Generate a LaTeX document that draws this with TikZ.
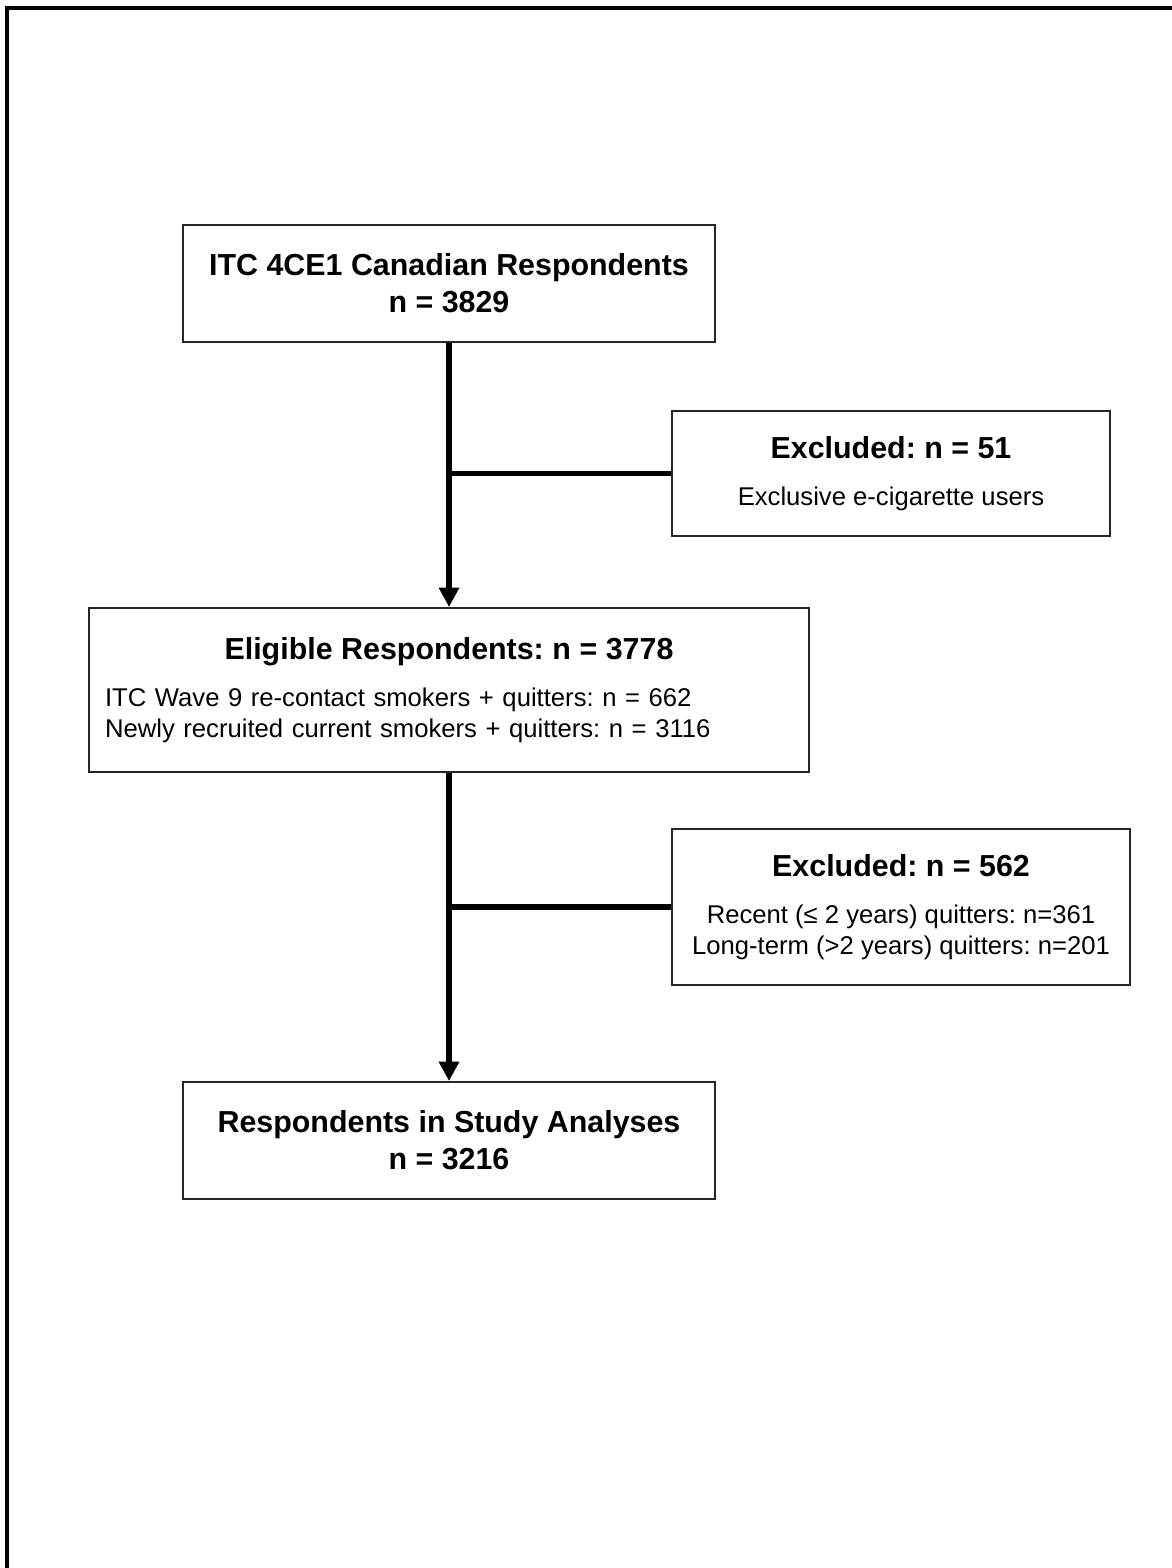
\documentclass[tikz,border=0pt]{standalone}
\usepackage{fontspec}
\setmainfont{Liberation Sans}
\usetikzlibrary{arrows.meta}

\newcommand{\hdfont}{\fontsize{17.3}{21}\selectfont\bfseries}
\newcommand{\txfont}{\fontsize{14.6}{17.6}\selectfont}
\frenchspacing

\begin{document}
\begin{tikzpicture}[x=0.02cm, y=-0.02cm, align=center]
  \tikzstyle{block} = [rectangle, draw=black!85, line width=1.1pt, inner sep=0pt, font=\txfont]
  \tikzstyle{arrow} = [-{Triangle[width=11pt, length=11pt]}, line width=3pt]
  \tikzstyle{branch} = [line width=3pt]

  \useasboundingbox (0,0) rectangle (1172,1568);
  \draw[line width=2pt] (7,1568) -- (7,8) -- (1172,8);

  \node[block, font=\hdfont, minimum width=10.64cm, minimum height=2.34cm] (itc) at (449,283.5)
    {ITC 4CE1 Canadian Respondents\\n = 3829};
  \node[block, minimum width=8.76cm, minimum height=2.5cm] (excla) at (891,473.5)
    {{\hdfont Excluded: n = 51}\\[9pt]Exclusive e-cigarette users};
  \node[block, align=left, text width=13.76cm, inner xsep=0.32cm, minimum height=3.28cm] (elig) at (449,690)
    {\makebox[\linewidth]{\hdfont Eligible Respondents: n = 3778}\\[9pt]
     ITC Wave 9 re-contact smokers + quitters: n = 662\\
     Newly recruited current smokers + quitters: n = 3116};
  \node[block, minimum width=9.16cm, minimum height=3.12cm] (exclb) at (901,907)
    {{\hdfont Excluded: n = 562}\\[9pt]Recent (≤ 2 years) quitters: n=361\\Long-term (>2 years) quitters: n=201};
  \node[block, font=\hdfont, minimum width=10.64cm, minimum height=2.34cm] (final) at (449,1140.5)
    {Respondents in Study Analyses\\n = 3216};

  \draw[arrow] (itc) -- (elig);
  \draw[branch] (itc.south |- excla.west) -- (excla.west);
  \draw[arrow] (elig) -- (final);
  \draw[branch] (elig.south |- exclb.west) -- (exclb.west);
\end{tikzpicture}
\end{document}
